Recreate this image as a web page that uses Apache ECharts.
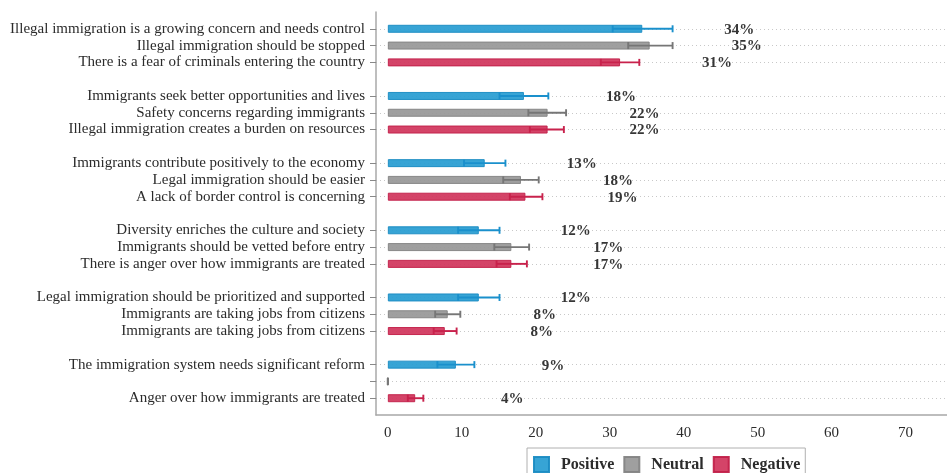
<!DOCTYPE html>
<html><head><meta charset="utf-8">
<script src="https://cdn.jsdelivr.net/npm/echarts@6/dist/echarts.min.js"></script>
<style>html,body{margin:0;padding:0;background:#fff}#c{width:947px;height:473px}</style>
</head><body><div id="c"></div>
<script>
const groupLabels = [
  ['Illegal immigration is a growing concern and needs control','Illegal immigration should be stopped','There is a fear of criminals entering the country'],
  ['Immigrants seek better opportunities and lives','Safety concerns regarding immigrants','Illegal immigration creates a burden on resources'],
  ['Immigrants contribute positively to the economy','Legal immigration should be easier','A lack of border control is concerning'],
  ['Diversity enriches the culture and society','Immigrants should be vetted before entry','There is anger over how immigrants are treated'],
  ['Legal immigration should be prioritized and supported','Immigrants are taking jobs from citizens','Immigrants are taking jobs from citizens'],
  ['The immigration system needs significant reform','','Anger over how immigrants are treated']
];
const sentiments = ['Positive','Neutral','Negative'];
const positiveValues = [34.4, 18.4, 13.1, 12.3, 12.3, 9.2];
const positiveLow    = [30.4, 15.1, 10.3, 9.5, 9.5, 6.7];
const positiveHigh   = [38.5, 21.7, 15.9, 15.1, 15.1, 11.7];
const neutralValues  = [35.4, 21.6, 18.0, 16.7, 8.1, 0];
const neutralLow     = [32.5, 19.0, 15.6, 14.4, 6.4, 0];
const neutralHigh    = [38.5, 24.1, 20.4, 19.1, 9.8, 0];
const negativeValues = [31.4, 21.6, 18.6, 16.7, 7.7, 3.7];
const negativeLow    = [28.8, 19.2, 16.5, 14.7, 6.2, 2.7];
const negativeHigh   = [34.0, 23.8, 20.9, 18.8, 9.3, 4.8];
const xTickValues = [0, 10, 20, 30, 40, 50, 60, 70];

const fills   = ['#2C9FD3', '#9A9A9A', '#D23A60'];
const borders = ['#1B8CC3', '#848484', '#C2214A'];
const errCols = ['#1A90CC', '#767676', '#C8224C'];
const serif = '"Liberation Serif", "DejaVu Serif", serif';

// build category slots: top pad, then 3 rows per group + spacer after each group
const cats = [''];
const isRow = [false];
const rowIdx = [];
groupLabels.forEach(function (g) {
  const r = [];
  g.forEach(function (lab) { cats.push(lab); isRow.push(true); r.push(cats.length - 1); });
  rowIdx.push(r);
  cats.push(''); isRow.push(false);
});
const vals = [positiveValues, neutralValues, negativeValues];
const lows = [positiveLow, neutralLow, negativeLow];
const highs = [positiveHigh, neutralHigh, negativeHigh];

const series = [];
sentiments.forEach(function (name, s) {
  const data = cats.map(function () { return '-'; });
  vals[s].forEach(function (v, g) { data[rowIdx[g][s]] = v; });
  series.push({
    name: name, type: 'bar', data: data, barWidth: 8, barGap: '-100%',
    itemStyle: { color: fills[s], borderColor: borders[s], borderWidth: 1, opacity: 0.95 },
    label: {
      show: true, position: 'right', distance: 97, align: 'center', offset: [0, 1],
      formatter: function (p) { return p.value ? Math.round(p.value) + '%' : ''; },
      fontFamily: serif, fontWeight: 'bold', fontSize: 15, color: '#2b2b2b'
    },
    z: 2
  });
});
sentiments.forEach(function (name, s) {
  const data = [];
  lows[s].forEach(function (lo, g) { data.push([rowIdx[g][s], lo, highs[s][g]]); });
  series.push({
    type: 'custom', name: name + ' CI', data: data,
    encode: { x: [1, 2], y: 0 }, z: 3, silent: true,
    renderItem: function (params, api) {
      const a = api.coord([api.value(1), api.value(0)]);
      const b = api.coord([api.value(2), api.value(0)]);
      const h = 3.5;
      const st = { stroke: errCols[s], lineWidth: 1.9 };
      return { type: 'group', children: [
        { type: 'line', shape: { x1: a[0], y1: a[1], x2: b[0], y2: b[1] }, style: st },
        { type: 'line', shape: { x1: a[0], y1: a[1] - h, x2: a[0], y2: a[1] + h }, style: st },
        { type: 'line', shape: { x1: b[0], y1: b[1] - h, x2: b[0], y2: b[1] + h }, style: st }
      ] };
    }
  });
});

const chart = echarts.init(document.getElementById('c'));
chart.setOption({
  animation: false,
  backgroundColor: '#fff',
  grid: { left: 376, right: 0, top: 12, bottom: 58, containLabel: false },
  xAxis: {
    type: 'value', min: -1.6, max: 75.6,
    axisLine: { show: true, onZero: false, lineStyle: { color: '#a8a8a8', width: 1.5 } },
    axisTick: { show: false },
    splitLine: { show: false },
    axisLabel: { customValues: xTickValues, fontFamily: serif, fontSize: 15, color: '#2b2b2b', margin: 11 }
  },
  yAxis: {
    type: 'category', data: cats, inverse: true, boundaryGap: false,
    axisLine: { show: true, onZero: false, lineStyle: { color: '#a8a8a8', width: 1.5 } },
    axisTick: { show: true, length: 6, interval: function (i) { return isRow[i]; }, lineStyle: { color: '#888' } },
    axisLabel: { interval: 0, fontFamily: serif, fontSize: 15, color: '#2b2b2b', margin: 11 },
    splitLine: { show: true, interval: function (i) { return isRow[i]; }, lineStyle: { color: '#c8c8c8', type: [1, 3], width: 1 } }
  },
  legend: {
    data: sentiments, left: 527, top: 448, orient: 'horizontal',
    icon: 'rect', itemWidth: 15, itemHeight: 15, itemGap: 9,
    padding: [8, 5, 8, 6], borderColor: '#b0b0b0', borderWidth: 1,
    textStyle: { fontFamily: serif, fontWeight: 'bold', fontSize: 16, color: '#2b2b2b', padding: [0, 0, 0, 7] }
  },
  series: series
});
</script>
</body></html>
